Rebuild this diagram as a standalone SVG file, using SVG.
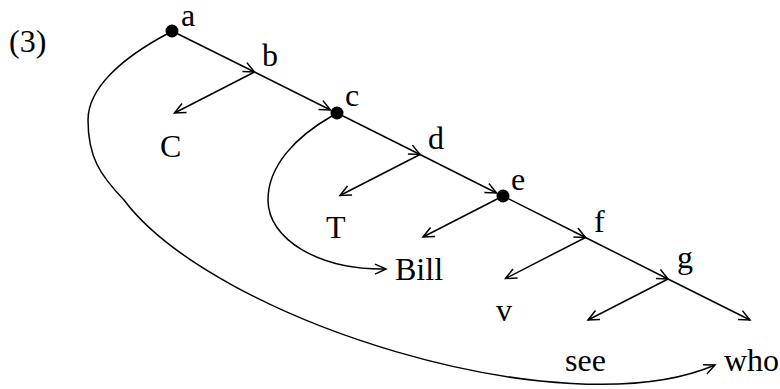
<svg xmlns="http://www.w3.org/2000/svg" width="780" height="389" viewBox="0 0 780 389">
<style>
text{font-family:"Liberation Serif","Times New Roman",serif;font-size:32px;fill:#000}
.ln{fill:none;stroke:#000;stroke-width:1.5;marker-end:url(#arr)}
.dot{fill:#000}
</style>
<defs>
<marker id="arr" markerUnits="userSpaceOnUse" viewBox="-13 -7 15 14" markerWidth="15" markerHeight="14" refX="0" refY="0" orient="auto">
<path d="M-11,-5 L0,0 L-11,5" fill="none" stroke="#000" stroke-width="1.5"/>
</marker>
</defs>
<rect width="780" height="389" fill="#fff"/>
<text x="9" y="52">(3)</text>
<g id="connectors">
<path class="ln" d="M172,31 L254.5,72"/>
<path class="ln" d="M254.5,72 L330.5,110"/>
<path class="ln" d="M337,113 L420,154.5"/>
<path class="ln" d="M420,154.5 L496.5,193"/>
<path class="ln" d="M503,196 L585.5,237.5"/>
<path class="ln" d="M585.5,237.5 L668,279"/>
<path class="ln" d="M668,279 L750,320"/>
<path class="ln" d="M254.5,72 L174.5,113"/>
<path class="ln" d="M420,154.5 L340,195.5"/>
<path class="ln" d="M503,196 L423,237"/>
<path class="ln" d="M585.5,237.5 L505.5,278.5"/>
<path class="ln" d="M668,279 L588,320"/>
<path class="ln" d="M167,34 C122,58 88,88 88,120 C88,157 100,175 124,200 C214,320 564,430 715,365"/>
<path class="ln" d="M332,116 C297,136 268,165 268,200 C268,240 320,270 386,269"/>
</g>
<g id="node-a"><circle class="dot" cx="172" cy="31" r="6.5"/><text x="181" y="26">a</text></g>
<g id="node-b"><text x="262" y="66">b</text></g>
<g id="node-c"><circle class="dot" cx="337" cy="113" r="6.5"/><text x="345" y="106">c</text></g>
<g id="node-d"><text x="428" y="149">d</text></g>
<g id="node-e"><circle class="dot" cx="503" cy="196" r="6.5"/><text x="511" y="190">e</text></g>
<g id="node-f"><text x="594" y="232">f</text></g>
<g id="node-g"><text x="677" y="268">g</text></g>
<g id="node-C"><text x="160" y="157">C</text></g>
<g id="node-T"><text x="326" y="238">T</text></g>
<g id="node-Bill"><text x="395" y="280">Bill</text></g>
<g id="node-v"><text x="496" y="321">v</text></g>
<g id="node-see"><text x="565" y="371">see</text></g>
<g id="node-who"><text x="724" y="371">who</text></g>
</svg>
